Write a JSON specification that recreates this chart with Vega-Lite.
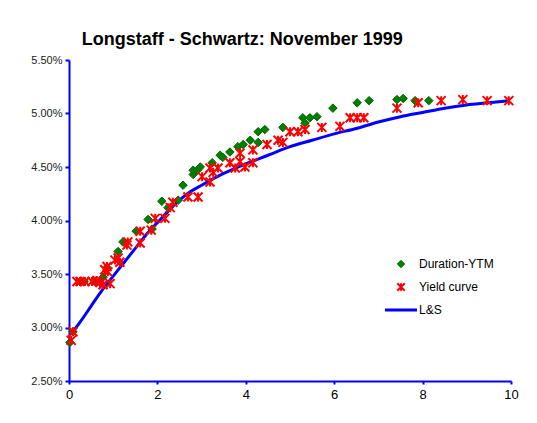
{
  "$schema": "https://vega.github.io/schema/vega-lite/v6.json",
  "autosize": "none",
  "width": 442,
  "height": 321,
  "padding": {"left": 69, "top": 60, "right": 26, "bottom": 42},
  "background": "white",
  "config": {
    "view": {"stroke": null},
    "font": "Liberation Sans"
  },
  "title": {
    "text": "Longstaff - Schwartz: November 1999",
    "font": "Liberation Sans",
    "fontSize": 18,
    "fontWeight": "bold",
    "color": "black",
    "anchor": "start",
    "dx": 51,
    "offset": 5
  },
  "datasets": {
    "pts": [
      {"series": "Duration-YTM", "x": 0.02, "y": 2.86},
      {"series": "Duration-YTM", "x": 0.09, "y": 2.96},
      {"series": "Duration-YTM", "x": 0.25, "y": 3.43},
      {"series": "Duration-YTM", "x": 0.34, "y": 3.43},
      {"series": "Duration-YTM", "x": 0.59, "y": 3.43},
      {"series": "Duration-YTM", "x": 0.68, "y": 3.43},
      {"series": "Duration-YTM", "x": 0.77, "y": 3.47},
      {"series": "Duration-YTM", "x": 0.86, "y": 3.56},
      {"series": "Duration-YTM", "x": 1.11, "y": 3.71},
      {"series": "Duration-YTM", "x": 1.22, "y": 3.80},
      {"series": "Duration-YTM", "x": 1.52, "y": 3.90},
      {"series": "Duration-YTM", "x": 1.79, "y": 4.01},
      {"series": "Duration-YTM", "x": 1.88, "y": 3.92},
      {"series": "Duration-YTM", "x": 2.10, "y": 4.18},
      {"series": "Duration-YTM", "x": 2.24, "y": 4.12},
      {"series": "Duration-YTM", "x": 2.47, "y": 4.19},
      {"series": "Duration-YTM", "x": 2.58, "y": 4.33},
      {"series": "Duration-YTM", "x": 2.81, "y": 4.43},
      {"series": "Duration-YTM", "x": 2.81, "y": 4.47},
      {"series": "Duration-YTM", "x": 2.90, "y": 4.47},
      {"series": "Duration-YTM", "x": 2.97, "y": 4.50},
      {"series": "Duration-YTM", "x": 3.24, "y": 4.54},
      {"series": "Duration-YTM", "x": 3.42, "y": 4.61},
      {"series": "Duration-YTM", "x": 3.48, "y": 4.59},
      {"series": "Duration-YTM", "x": 3.64, "y": 4.64},
      {"series": "Duration-YTM", "x": 3.82, "y": 4.69},
      {"series": "Duration-YTM", "x": 3.94, "y": 4.71},
      {"series": "Duration-YTM", "x": 4.10, "y": 4.75},
      {"series": "Duration-YTM", "x": 4.28, "y": 4.83},
      {"series": "Duration-YTM", "x": 4.43, "y": 4.85},
      {"series": "Duration-YTM", "x": 4.28, "y": 4.73},
      {"series": "Duration-YTM", "x": 4.84, "y": 4.87},
      {"series": "Duration-YTM", "x": 5.29, "y": 4.96},
      {"series": "Duration-YTM", "x": 5.45, "y": 4.96},
      {"series": "Duration-YTM", "x": 5.61, "y": 4.97},
      {"series": "Duration-YTM", "x": 5.34, "y": 4.91},
      {"series": "Duration-YTM", "x": 5.97, "y": 5.05},
      {"series": "Duration-YTM", "x": 6.52, "y": 5.10},
      {"series": "Duration-YTM", "x": 6.79, "y": 5.12},
      {"series": "Duration-YTM", "x": 7.42, "y": 5.13},
      {"series": "Duration-YTM", "x": 7.56, "y": 5.14},
      {"series": "Duration-YTM", "x": 7.83, "y": 5.12},
      {"series": "Duration-YTM", "x": 8.14, "y": 5.12},
      {"series": "Yield curve", "x": 0.05, "y": 2.88},
      {"series": "Yield curve", "x": 0.09, "y": 2.96},
      {"series": "Yield curve", "x": 0.18, "y": 3.43},
      {"series": "Yield curve", "x": 0.25, "y": 3.43},
      {"series": "Yield curve", "x": 0.36, "y": 3.43},
      {"series": "Yield curve", "x": 0.52, "y": 3.43},
      {"series": "Yield curve", "x": 0.63, "y": 3.44},
      {"series": "Yield curve", "x": 0.70, "y": 3.42},
      {"series": "Yield curve", "x": 0.77, "y": 3.40},
      {"series": "Yield curve", "x": 0.93, "y": 3.41},
      {"series": "Yield curve", "x": 0.81, "y": 3.54},
      {"series": "Yield curve", "x": 0.86, "y": 3.57},
      {"series": "Yield curve", "x": 0.88, "y": 3.52},
      {"series": "Yield curve", "x": 1.04, "y": 3.63},
      {"series": "Yield curve", "x": 1.11, "y": 3.65},
      {"series": "Yield curve", "x": 1.15, "y": 3.61},
      {"series": "Yield curve", "x": 1.31, "y": 3.77},
      {"series": "Yield curve", "x": 1.33, "y": 3.80},
      {"series": "Yield curve", "x": 1.61, "y": 3.79},
      {"series": "Yield curve", "x": 1.61, "y": 3.90},
      {"series": "Yield curve", "x": 1.86, "y": 3.91},
      {"series": "Yield curve", "x": 1.95, "y": 4.02},
      {"series": "Yield curve", "x": 2.17, "y": 4.02},
      {"series": "Yield curve", "x": 2.29, "y": 4.12},
      {"series": "Yield curve", "x": 2.35, "y": 4.17},
      {"series": "Yield curve", "x": 2.69, "y": 4.22},
      {"series": "Yield curve", "x": 2.92, "y": 4.22},
      {"series": "Yield curve", "x": 3.01, "y": 4.41},
      {"series": "Yield curve", "x": 3.19, "y": 4.36},
      {"series": "Yield curve", "x": 3.19, "y": 4.49},
      {"series": "Yield curve", "x": 3.26, "y": 4.45},
      {"series": "Yield curve", "x": 3.37, "y": 4.49},
      {"series": "Yield curve", "x": 3.64, "y": 4.54},
      {"series": "Yield curve", "x": 3.76, "y": 4.49},
      {"series": "Yield curve", "x": 3.98, "y": 4.50},
      {"series": "Yield curve", "x": 3.87, "y": 4.55},
      {"series": "Yield curve", "x": 3.87, "y": 4.63},
      {"series": "Yield curve", "x": 4.16, "y": 4.66},
      {"series": "Yield curve", "x": 4.16, "y": 4.54},
      {"series": "Yield curve", "x": 4.48, "y": 4.71},
      {"series": "Yield curve", "x": 4.73, "y": 4.75},
      {"series": "Yield curve", "x": 4.84, "y": 4.73},
      {"series": "Yield curve", "x": 5.00, "y": 4.83},
      {"series": "Yield curve", "x": 5.18, "y": 4.83},
      {"series": "Yield curve", "x": 5.34, "y": 4.85},
      {"series": "Yield curve", "x": 5.72, "y": 4.87},
      {"series": "Yield curve", "x": 6.13, "y": 4.88},
      {"series": "Yield curve", "x": 6.36, "y": 4.96},
      {"series": "Yield curve", "x": 6.52, "y": 4.96},
      {"series": "Yield curve", "x": 6.67, "y": 4.96},
      {"series": "Yield curve", "x": 7.42, "y": 5.05},
      {"series": "Yield curve", "x": 7.90, "y": 5.10},
      {"series": "Yield curve", "x": 8.42, "y": 5.12},
      {"series": "Yield curve", "x": 8.91, "y": 5.13},
      {"series": "Yield curve", "x": 9.46, "y": 5.12},
      {"series": "Yield curve", "x": 9.95, "y": 5.12}
    ],
    "curve": [
      {"series": "L&S", "x": 0.07, "y": 2.95},
      {"series": "L&S", "x": 0.25, "y": 3.05},
      {"series": "L&S", "x": 0.5, "y": 3.2},
      {"series": "L&S", "x": 0.75, "y": 3.35},
      {"series": "L&S", "x": 1.0, "y": 3.48},
      {"series": "L&S", "x": 1.25, "y": 3.61},
      {"series": "L&S", "x": 1.5, "y": 3.74},
      {"series": "L&S", "x": 1.75, "y": 3.87},
      {"series": "L&S", "x": 2.0, "y": 3.98},
      {"series": "L&S", "x": 2.25, "y": 4.09},
      {"series": "L&S", "x": 2.5, "y": 4.19},
      {"series": "L&S", "x": 2.75, "y": 4.27},
      {"series": "L&S", "x": 3.0, "y": 4.33},
      {"series": "L&S", "x": 3.5, "y": 4.44},
      {"series": "L&S", "x": 4.0, "y": 4.53},
      {"series": "L&S", "x": 4.5, "y": 4.61},
      {"series": "L&S", "x": 5.0, "y": 4.69},
      {"series": "L&S", "x": 5.5, "y": 4.75},
      {"series": "L&S", "x": 6.0, "y": 4.81},
      {"series": "L&S", "x": 6.5, "y": 4.86},
      {"series": "L&S", "x": 7.0, "y": 4.92},
      {"series": "L&S", "x": 7.5, "y": 4.97},
      {"series": "L&S", "x": 8.0, "y": 5.01},
      {"series": "L&S", "x": 8.5, "y": 5.05},
      {"series": "L&S", "x": 9.0, "y": 5.08},
      {"series": "L&S", "x": 9.5, "y": 5.10},
      {"series": "L&S", "x": 9.95, "y": 5.12}
    ]
  },
  "encoding": {
    "x": {
      "field": "x",
      "type": "quantitative",
      "scale": {"domain": [0, 10], "nice": false, "zero": false},
      "axis": {
        "title": null,
        "values": [0, 2, 4, 6, 8, 10],
        "grid": false,
        "domainColor": "#0000ff",
        "domainWidth": 2,
        "tickColor": "#0000ff",
        "tickWidth": 2,
        "tickSize": 3,
        "labelFont": "Liberation Sans",
        "labelFontSize": 13,
        "labelColor": "#000000",
        "labelPadding": 4,
        "labelFlush": false
      }
    },
    "y": {
      "field": "y",
      "type": "quantitative",
      "scale": {"domain": [2.5, 5.5], "nice": false, "zero": false},
      "axis": {
        "title": null,
        "values": [2.5, 3, 3.5, 4, 4.5, 5, 5.5],
        "labelExpr": "format(datum.value, '.2f') + '%'",
        "grid": false,
        "domainColor": "#0000ff",
        "domainWidth": 2,
        "tickColor": "#0000ff",
        "tickWidth": 2,
        "tickSize": 4,
        "labelFont": "Liberation Sans",
        "labelFontSize": 11,
        "labelColor": "#222222",
        "labelPadding": 3
      }
    },
    "color": {
      "field": "series",
      "type": "nominal",
      "scale": {
        "domain": ["Duration-YTM", "Yield curve", "L&S"],
        "range": ["#008000", "#ff0000", "#0000ff"]
      },
      "legend": {
        "title": null,
        "orient": "none",
        "legendX": 326,
        "legendY": 198,
        "labelFont": "Liberation Sans",
        "labelFontSize": 12,
        "labelColor": "#000000",
        "symbolSize": 1024,
        "rowPadding": 9,
        "labelOffset": 12,
        "encode": {
          "symbols": {
            "update": {
              "shape": {"signal": "datum.value === 'L&S' ? 'stroke' : datum.value === 'Yield curve' ? 'M-1,-1L1,1M-1,1L1,-1M0,-1L0,1' : 'diamond'"},
              "size": {"signal": "datum.value === 'L&S' ? 1024 : 56"},
              "fill": {"signal": "datum.value === 'Duration-YTM' ? '#008000' : 'transparent'"},
              "stroke": {"signal": "datum.value === 'Duration-YTM' ? '#006400' : datum.value === 'Yield curve' ? '#ff0000' : '#0000ff'"},
              "strokeWidth": {"signal": "datum.value === 'L&S' ? 3 : datum.value === 'Yield curve' ? 2 : 1"},
              "opacity": {"value": 1}
            }
          }
        }
      }
    }
  },
  "layer": [
    {
      "data": {"name": "curve"},
      "mark": {"type": "line", "strokeWidth": 3, "interpolate": "monotone"}
    },
    {
      "data": {"name": "pts"},
      "transform": [{"filter": "datum.series === 'Duration-YTM'"}],
      "mark": {"type": "point", "shape": "diamond", "filled": true, "size": 72, "stroke": "#006400", "strokeWidth": 1, "opacity": 1}
    },
    {
      "data": {"name": "pts"},
      "transform": [{"filter": "datum.series === 'Yield curve'"}],
      "mark": {"type": "point", "shape": "M-1,-1L1,1M-1,1L1,-1M0,-1L0,1", "filled": false, "size": 81, "strokeWidth": 2, "opacity": 1}
    }
  ]
}
